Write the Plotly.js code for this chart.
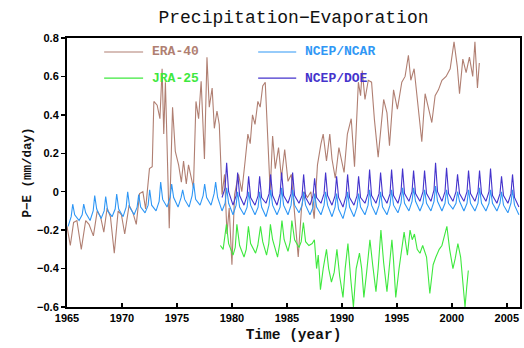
<!DOCTYPE html>
<html><head><meta charset="utf-8">
<script src="https://cdn.plot.ly/plotly-3.0.1.min.js"></script>
<style>html,body{margin:0;padding:0;background:#fff}#chart{width:524px;height:348px}</style>
</head><body><div id="chart"></div>
<script>
// Seasonal sampling offsets within each year (trough, rise, peak, decline)
const seasonPhase = [0.1, 0.38, 0.52, 0.7];

// NCEP/NCAR: one row per year from 1965
const ncarStartYear = 1965;
const ncarValues = [
  [-0.18,-0.13,-0.065,-0.12],[-0.15,-0.12,-0.065,-0.11],[-0.15,-0.10,-0.02,-0.09],[-0.14,-0.10,-0.025,-0.10],
  [-0.13,-0.09,-0.012,-0.09],[-0.13,-0.08,0.0,-0.08],[-0.12,-0.08,-0.015,-0.08],[-0.11,-0.07,0.01,-0.07],
  [-0.10,-0.05,0.05,-0.04],[-0.08,-0.03,0.04,-0.03],[-0.08,-0.03,0.01,-0.04],[-0.08,-0.02,0.045,-0.04],
  [-0.07,-0.02,0.04,-0.03],[-0.07,-0.01,0.05,-0.03],[-0.10,-0.06,0.02,-0.06],[-0.12,-0.07,0.0,-0.08],
  [-0.12,-0.08,0.0,-0.07],[-0.12,-0.08,0.0,-0.08],[-0.13,-0.07,0.01,-0.07],[-0.12,-0.08,0.02,-0.07],
  [-0.12,-0.07,0.01,-0.07],[-0.11,-0.07,0.0,-0.07],[-0.12,-0.08,-0.01,-0.08],[-0.12,-0.07,0.0,-0.07],
  [-0.13,-0.08,-0.01,-0.09],[-0.14,-0.08,0.0,-0.08],[-0.13,-0.08,-0.01,-0.08],[-0.12,-0.07,0.01,-0.07],
  [-0.12,-0.07,0.0,-0.08],[-0.12,-0.07,0.01,-0.07],[-0.11,-0.06,0.02,-0.06],[-0.10,-0.05,0.02,-0.05],
  [-0.10,-0.06,0.01,-0.06],[-0.10,-0.05,0.03,-0.05],[-0.10,-0.06,0.01,-0.06],[-0.09,-0.06,0.0,-0.05],
  [-0.10,-0.06,0.01,-0.06],[-0.10,-0.06,0.02,-0.06],[-0.10,-0.06,0.01,-0.06],[-0.10,-0.06,0.0,-0.07],
  [-0.11,-0.06,0.01,-0.07],[-0.12]
];

// NCEP/DOE: one row per year from 1979
const doeStartYear = 1979;
const doeValues = [
  [-0.03,0.02,0.15,0.0],[-0.07,-0.02,0.10,-0.02],[-0.07,-0.02,0.08,-0.03],[-0.07,-0.02,0.08,-0.03],
  [-0.06,-0.01,0.09,-0.02],[-0.07,-0.01,0.10,-0.02],[-0.06,-0.01,0.10,-0.02],[-0.06,-0.02,0.09,-0.03],
  [-0.07,-0.02,0.07,-0.03],[-0.06,-0.01,0.10,-0.02],[-0.07,-0.02,0.08,-0.03],[-0.08,-0.02,0.09,-0.03],
  [-0.07,-0.02,0.08,-0.03],[-0.06,-0.01,0.115,-0.02],[-0.06,-0.01,0.10,-0.02],[-0.06,-0.01,0.115,-0.02],
  [-0.06,0.0,0.12,-0.01],[-0.05,0.0,0.11,-0.01],[-0.05,0.0,0.11,-0.01],[-0.05,0.01,0.15,0.0],
  [-0.05,0.0,0.125,-0.01],[-0.05,0.0,0.09,-0.01],[-0.05,0.0,0.11,-0.01],[-0.05,0.0,0.11,-0.01],
  [-0.05,0.0,0.12,-0.02],[-0.06,-0.01,0.08,-0.02],[-0.06,-0.01,0.09,-0.03],[-0.08]
];

// ERA-40
const eraTime = [1965.0,1965.3,1965.6,1965.9,1966.3,1966.7,1967.0,1967.4,1967.75,1968.05,1968.35,1968.65,1968.95,
  1969.3,1969.65,1969.95,1970.25,1970.65,1971.0,1971.3,1971.6,1971.9,1972.15,1972.5,1972.75,1972.9,1973.2,1973.45,
  1973.65,1973.8,1973.95,1974.3,1974.6,1974.85,1975.15,1975.4,1975.6,1975.85,1976.05,1976.3,1976.5,1976.73,1976.97,
  1977.2,1977.5,1977.73,1977.94,1978.2,1978.4,1978.64,1978.85,1979.1,1979.33,1979.55,1979.75,1980.0,1980.24,1980.6,
  1980.9,1981.2,1981.45,1981.66,1981.87,1982.1,1982.36,1982.57,1982.8,1983.03,1983.27,1983.48,1983.7,1983.94,1984.24,
  1984.5,1984.8,1985.1,1985.4,1985.73,1986.03,1986.33,1986.57,1986.87,1987.18,1987.48,1987.78,1988.1,1988.3,1988.6,
  1988.9,1989.1,1989.4,1989.73,1989.97,1990.2,1990.5,1990.85,1991.15,1991.5,1991.7,1991.85,1992.1,1992.4,1992.7,
  1992.96,1993.3,1993.8,1994.1,1994.33,1994.7,1995.05,1995.45,1995.75,1996.05,1996.27,1996.57,1996.8,1997.05,1997.27,
  1997.57,1997.87,1998.18,1998.48,1998.78,1999.1,1999.48,1999.85,2000.2,2000.5,2000.7,2001.0,2001.3,2001.6,2001.9,
  2002.1,2002.33,2002.5];
const eraValues = [-0.18,-0.28,-0.16,-0.15,-0.30,-0.15,-0.17,-0.23,-0.10,-0.13,-0.21,-0.085,-0.13,
  -0.32,-0.10,-0.12,-0.22,-0.07,-0.11,-0.17,-0.01,0.0,-0.09,0.12,0.13,0.47,0.45,0.38,
  0.64,0.30,0.57,-0.19,0.44,0.21,0.14,0.05,0.16,0.04,0.14,0.07,0.02,0.47,0.38,
  0.575,0.17,0.70,0.44,0.54,0.33,0.42,0.35,-0.015,0.09,-0.22,-0.085,-0.38,-0.015,0.09,
  0.0,0.16,0.30,0.25,0.40,0.35,0.47,0.44,0.55,0.57,0.25,0.0,0.29,0.12,0.23,
  0.07,0.22,0.054,0.09,-0.155,-0.34,-0.085,0.0,-0.03,0.0,-0.14,0.14,0.25,0.30,0.16,
  0.30,0.17,0.07,0.23,0.16,0.10,0.30,0.38,0.13,0.57,0.50,0.63,0.48,0.58,0.57,
  0.375,0.18,0.48,0.41,0.24,0.53,0.43,0.57,0.60,0.71,0.58,0.64,0.51,0.39,0.26,
  0.51,0.43,0.36,0.50,0.53,0.58,0.60,0.64,0.78,0.65,0.51,0.69,0.62,0.70,0.60,
  0.78,0.54,0.67];

// JRA-25
const jraTime = [1978.95,1979.2,1979.5,1979.7,1980.1,1980.3,1980.45,1980.7,1981.1,1981.3,1981.5,1981.7,
  1982.15,1982.35,1982.6,1982.8,1983.15,1983.35,1983.5,1983.7,1984.15,1984.35,1984.55,1984.75,
  1985.1,1985.3,1985.45,1985.7,1986.1,1986.3,1986.5,1986.7,1987.0,1987.3,1987.5,1987.7,1987.85,
  1988.05,1988.3,1988.6,1988.8,1989.05,1989.3,1989.55,1989.8,1990.1,1990.3,1990.55,1990.8,1991.05,
  1991.3,1991.6,1991.8,1992.0,1992.25,1992.55,1992.8,1993.1,1993.3,1993.55,1993.8,1994.1,1994.3,
  1994.55,1994.7,1994.9,1995.2,1995.45,1995.66,1995.96,1996.2,1996.4,1996.6,1996.85,1997.1,1997.35,
  1997.7,1998.0,1998.3,1998.55,1998.85,1999.1,1999.3,1999.55,1999.8,2000.1,2000.3,2000.55,2000.8,
  2001.05,2001.2,2001.35,2001.5];
const jraValues = [-0.28,-0.30,-0.17,-0.27,-0.33,-0.29,-0.17,-0.28,-0.34,-0.30,-0.18,-0.27,
  -0.32,-0.28,-0.18,-0.26,-0.33,-0.27,-0.17,-0.25,-0.34,-0.27,-0.15,-0.25,
  -0.31,-0.26,-0.15,-0.25,-0.29,-0.26,-0.16,-0.26,-0.28,-0.27,-0.25,-0.40,-0.33,
  -0.51,-0.40,-0.30,-0.40,-0.47,-0.42,-0.30,-0.44,-0.55,-0.40,-0.27,-0.45,-0.60,
  -0.40,-0.32,-0.40,-0.55,-0.42,-0.25,-0.38,-0.52,-0.40,-0.20,-0.37,-0.52,-0.40,
  -0.25,-0.36,-0.55,-0.40,-0.29,-0.21,-0.33,-0.20,-0.25,-0.22,-0.30,-0.32,-0.28,
  -0.34,-0.53,-0.38,-0.34,-0.30,-0.28,-0.24,-0.18,-0.30,-0.40,-0.35,-0.27,-0.34,
  -0.48,-0.60,-0.50,-0.41];

const xTickVals = [1965,1970,1975,1980,1985,1990,1995,2000,2005];
const xTickText = ['1965','1970','1975','1980','1985','1990','1995','2000','2005'];
const yTickVals = [-0.6,-0.4,-0.2,0,0.2,0.4,0.6,0.8];
const yTickText = ['\u22120.6','\u22120.4','\u22120.2','0','0.2','0.4','0.6','0.8'];

const seriesNames = ['ERA-40','NCEP/NCAR','JRA-25','NCEP/DOE'];
const seriesColors = ['#b07f72','#2f97f5','#3ee83e','#4433cc'];

function expand(startYear, rows){
  const x=[], y=[];
  rows.forEach((row,i)=>row.forEach((v,k)=>{ x.push(startYear+i+seasonPhase[k]); y.push(v); }));
  return {x,y};
}
const ncar = expand(ncarStartYear, ncarValues);
const doe = expand(doeStartYear, doeValues);

const lw = 1.1;
const traces = [
  {x: eraTime, y: eraValues, name: seriesNames[0], mode:'lines', line:{color:seriesColors[0], width:lw}},
  {x: jraTime, y: jraValues, name: seriesNames[2], mode:'lines', line:{color:seriesColors[2], width:lw}},
  {x: ncar.x, y: ncar.y, name: seriesNames[1], mode:'lines', line:{color:seriesColors[1], width:lw}},
  {x: doe.x, y: doe.y, name: seriesNames[3], mode:'lines', line:{color:seriesColors[3], width:lw}}
];

const monoFont = 'Liberation Mono, DejaVu Sans Mono, monospace';
// legend (two columns inside the plot)
const legendPos = [
  {lx0:0.082, lx1:0.168, tx:0.184, y:0.948},
  {lx0:0.422, lx1:0.506, tx:0.522, y:0.948},
  {lx0:0.082, lx1:0.168, tx:0.184, y:0.851},
  {lx0:0.422, lx1:0.506, tx:0.522, y:0.851}
];
const shapes = legendPos.map((p,i)=>({type:'line', xref:'paper', yref:'paper', x0:p.lx0, x1:p.lx1, y0:p.y, y1:p.y,
  line:{color:seriesColors[i], width:1.2}}));
const annotations = legendPos.map((p,i)=>({xref:'paper', yref:'paper', x:p.tx, y:p.y, xanchor:'left', yanchor:'middle',
  text:'<b>'+seriesNames[i]+'</b>', showarrow:false, font:{family:monoFont, size:13, color:seriesColors[i]}}));

const layout = {
  width:524, height:348,
  margin:{l:67, r:4, t:38, b:41},
  paper_bgcolor:'#fff', plot_bgcolor:'#fff',
  showlegend:false,
  title:{text:'Precipitation\u2212Evaporation', x:0.5, xref:'paper', y:0.952, yref:'container', yanchor:'middle',
    font:{family:monoFont, size:18, color:'#111'}},
  xaxis:{range:[1965,2006.2], tickvals:xTickVals, ticktext:xTickText, ticks:'inside', ticklen:4, tickwidth:1.5,
    tickcolor:'#000', showline:true, linecolor:'#000', linewidth:2, mirror:true, showgrid:false, zeroline:false,
    tickfont:{family:'Liberation Sans, Arial, sans-serif', size:11, color:'#000', weight:'bold'},
    title:{text:'<b>Time (year)</b>', standoff:6, font:{family:monoFont, size:14.5, color:'#111'}}},
  yaxis:{range:[-0.6,0.8], tickvals:yTickVals, ticktext:yTickText, ticks:'outside', ticklen:4, tickwidth:1.5,
    tickcolor:'#000', showline:true, linecolor:'#000', linewidth:2, mirror:true, showgrid:false, zeroline:false,
    tickfont:{family:'Liberation Sans, Arial, sans-serif', size:11, color:'#000', weight:'bold'},
    title:{text:'<b>P\u2212E (mm/day)</b>', standoff:3, font:{family:monoFont, size:12.5, color:'#111'}}},
  shapes: shapes,
  annotations: annotations
};
Plotly.newPlot('chart', traces, layout, {displayModeBar:false, staticPlot:true});
</script>
</body></html>
